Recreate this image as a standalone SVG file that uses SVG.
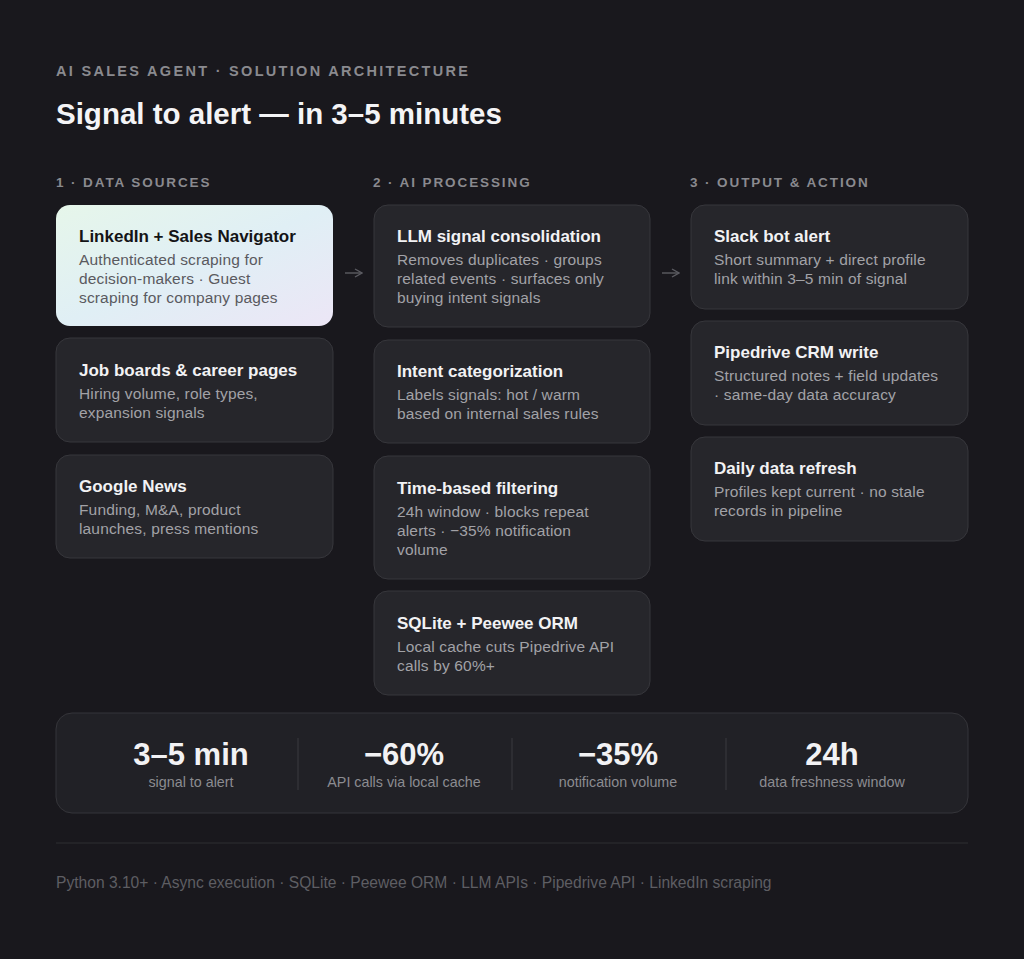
<svg xmlns="http://www.w3.org/2000/svg" width="1024" height="959" viewBox="0 0 1024 959">
<defs>
<linearGradient id="hl" x1="0" y1="0" x2="1" y2="1">
<stop offset="0" stop-color="#e6f6ea"/>
<stop offset="0.5" stop-color="#e0eff5"/>
<stop offset="1" stop-color="#ece6f6"/>
</linearGradient>
<marker id="ah" viewBox="0 0 10 10" refX="9" refY="5" markerWidth="10" markerHeight="10" orient="auto" markerUnits="userSpaceOnUse">
<path d="M2,1 L9,5 L2,9" fill="none" stroke="#5c5c62" stroke-width="1.4"/>
</marker>
<style>
text{font-family:"Liberation Sans",Arial,sans-serif}
.eyebrow{font-size:14.5px;font-weight:bold;fill:#8a8a8f;letter-spacing:2.3px}
.title{font-size:29.5px;font-weight:bold;fill:#f4f4f6}
.col{font-size:13.5px;font-weight:bold;fill:#8a8a8f;letter-spacing:1.9px}
.card{fill:#26262b;stroke:#37373c;stroke-width:1}
.ct{font-size:17px;font-weight:bold;fill:#f2f2f4}
.cd{font-size:15.5px;fill:#a2a2a7;letter-spacing:0.15px}
.hl .ct{fill:#141416}
.hl .cd{fill:#5a5a5f}
.sv{font-size:31px;font-weight:bold;fill:#f2f2f4;text-anchor:middle}
.sl{font-size:14.3px;fill:#8c8c91;text-anchor:middle}
.foot{font-size:15.6px;fill:#5e5e63}
</style>
</defs>
<rect width="1024" height="959" fill="#19181d"/>
<text class="eyebrow" x="56" y="76">AI SALES AGENT · SOLUTION ARCHITECTURE</text>
<text class="title" x="56" y="124">Signal to alert — in 3–5 minutes</text>
<text class="col" x="56" y="187">1 · DATA SOURCES</text>
<text class="col" x="373" y="187">2 · AI PROCESSING</text>
<text class="col" x="690" y="187">3 · OUTPUT &amp; ACTION</text>

<g id="linkedin" class="hl">
<rect x="56" y="205" width="277" height="121" rx="14" fill="url(#hl)"/>
<text class="ct" x="79" y="242">LinkedIn + Sales Navigator</text>
<text class="cd" x="79" y="265">Authenticated scraping for</text>
<text class="cd" x="79" y="284">decision-makers · Guest</text>
<text class="cd" x="79" y="303">scraping for company pages</text>
</g>
<g id="jobboards">
<rect class="card" x="56" y="338" width="277" height="104" rx="14"/>
<text class="ct" x="79" y="376">Job boards &amp; career pages</text>
<text class="cd" x="79" y="399">Hiring volume, role types,</text>
<text class="cd" x="79" y="418">expansion signals</text>
</g>
<g id="googlenews">
<rect class="card" x="56" y="455" width="277" height="103" rx="14"/>
<text class="ct" x="79" y="492">Google News</text>
<text class="cd" x="79" y="515">Funding, M&amp;A, product</text>
<text class="cd" x="79" y="534">launches, press mentions</text>
</g>

<g id="llm">
<rect class="card" x="374" y="205" width="276" height="122" rx="14"/>
<text class="ct" x="397" y="242">LLM signal consolidation</text>
<text class="cd" x="397" y="265">Removes duplicates · groups</text>
<text class="cd" x="397" y="284">related events · surfaces only</text>
<text class="cd" x="397" y="303">buying intent signals</text>
</g>
<g id="intent">
<rect class="card" x="374" y="340" width="276" height="103" rx="14"/>
<text class="ct" x="397" y="377">Intent categorization</text>
<text class="cd" x="397" y="400">Labels signals: hot / warm</text>
<text class="cd" x="397" y="419">based on internal sales rules</text>
</g>
<g id="timefilter">
<rect class="card" x="374" y="456" width="276" height="123" rx="14"/>
<text class="ct" x="397" y="494">Time-based filtering</text>
<text class="cd" x="397" y="517">24h window · blocks repeat</text>
<text class="cd" x="397" y="536">alerts · −35% notification</text>
<text class="cd" x="397" y="555">volume</text>
</g>
<g id="sqlite">
<rect class="card" x="374" y="591" width="276" height="104" rx="14"/>
<text class="ct" x="397" y="629">SQLite + Peewee ORM</text>
<text class="cd" x="397" y="652">Local cache cuts Pipedrive API</text>
<text class="cd" x="397" y="671">calls by 60%+</text>
</g>

<g id="slack">
<rect class="card" x="691" y="205" width="277" height="104" rx="14"/>
<text class="ct" x="714" y="242">Slack bot alert</text>
<text class="cd" x="714" y="265">Short summary + direct profile</text>
<text class="cd" x="714" y="284">link within 3–5 min of signal</text>
</g>
<g id="pipedrive">
<rect class="card" x="691" y="321" width="277" height="104" rx="14"/>
<text class="ct" x="714" y="358">Pipedrive CRM write</text>
<text class="cd" x="714" y="381">Structured notes + field updates</text>
<text class="cd" x="714" y="400">· same-day data accuracy</text>
</g>
<g id="refresh">
<rect class="card" x="691" y="437" width="277" height="104" rx="14"/>
<text class="ct" x="714" y="474">Daily data refresh</text>
<text class="cd" x="714" y="497">Profiles kept current · no stale</text>
<text class="cd" x="714" y="516">records in pipeline</text>
</g>

<g id="connectors" stroke="#5c5c62" stroke-width="1.4" fill="none">
<line x1="345" y1="273" x2="362" y2="273" marker-end="url(#ah)"/>
<line x1="662" y1="273" x2="679" y2="273" marker-end="url(#ah)"/>
</g>

<g id="stats">
<rect x="56" y="713" width="912" height="100" rx="16" fill="#212126" stroke="#35353a"/>
<line x1="298" y1="738" x2="298" y2="790" stroke="#3a3a3f"/>
<line x1="512" y1="738" x2="512" y2="790" stroke="#3a3a3f"/>
<line x1="726" y1="738" x2="726" y2="790" stroke="#3a3a3f"/>
<text class="sv" x="191" y="765">3–5 min</text>
<text class="sl" x="191" y="787">signal to alert</text>
<text class="sv" x="404" y="765">−60%</text>
<text class="sl" x="404" y="787">API calls via local cache</text>
<text class="sv" x="618" y="765">−35%</text>
<text class="sl" x="618" y="787">notification volume</text>
<text class="sv" x="832" y="765">24h</text>
<text class="sl" x="832" y="787">data freshness window</text>
</g>

<line x1="56" y1="843" x2="968" y2="843" stroke="#2e2e33"/>
<text class="foot" x="56" y="888">Python 3.10+ · Async execution · SQLite · Peewee ORM · LLM APIs · Pipedrive API · LinkedIn scraping</text>
</svg>
